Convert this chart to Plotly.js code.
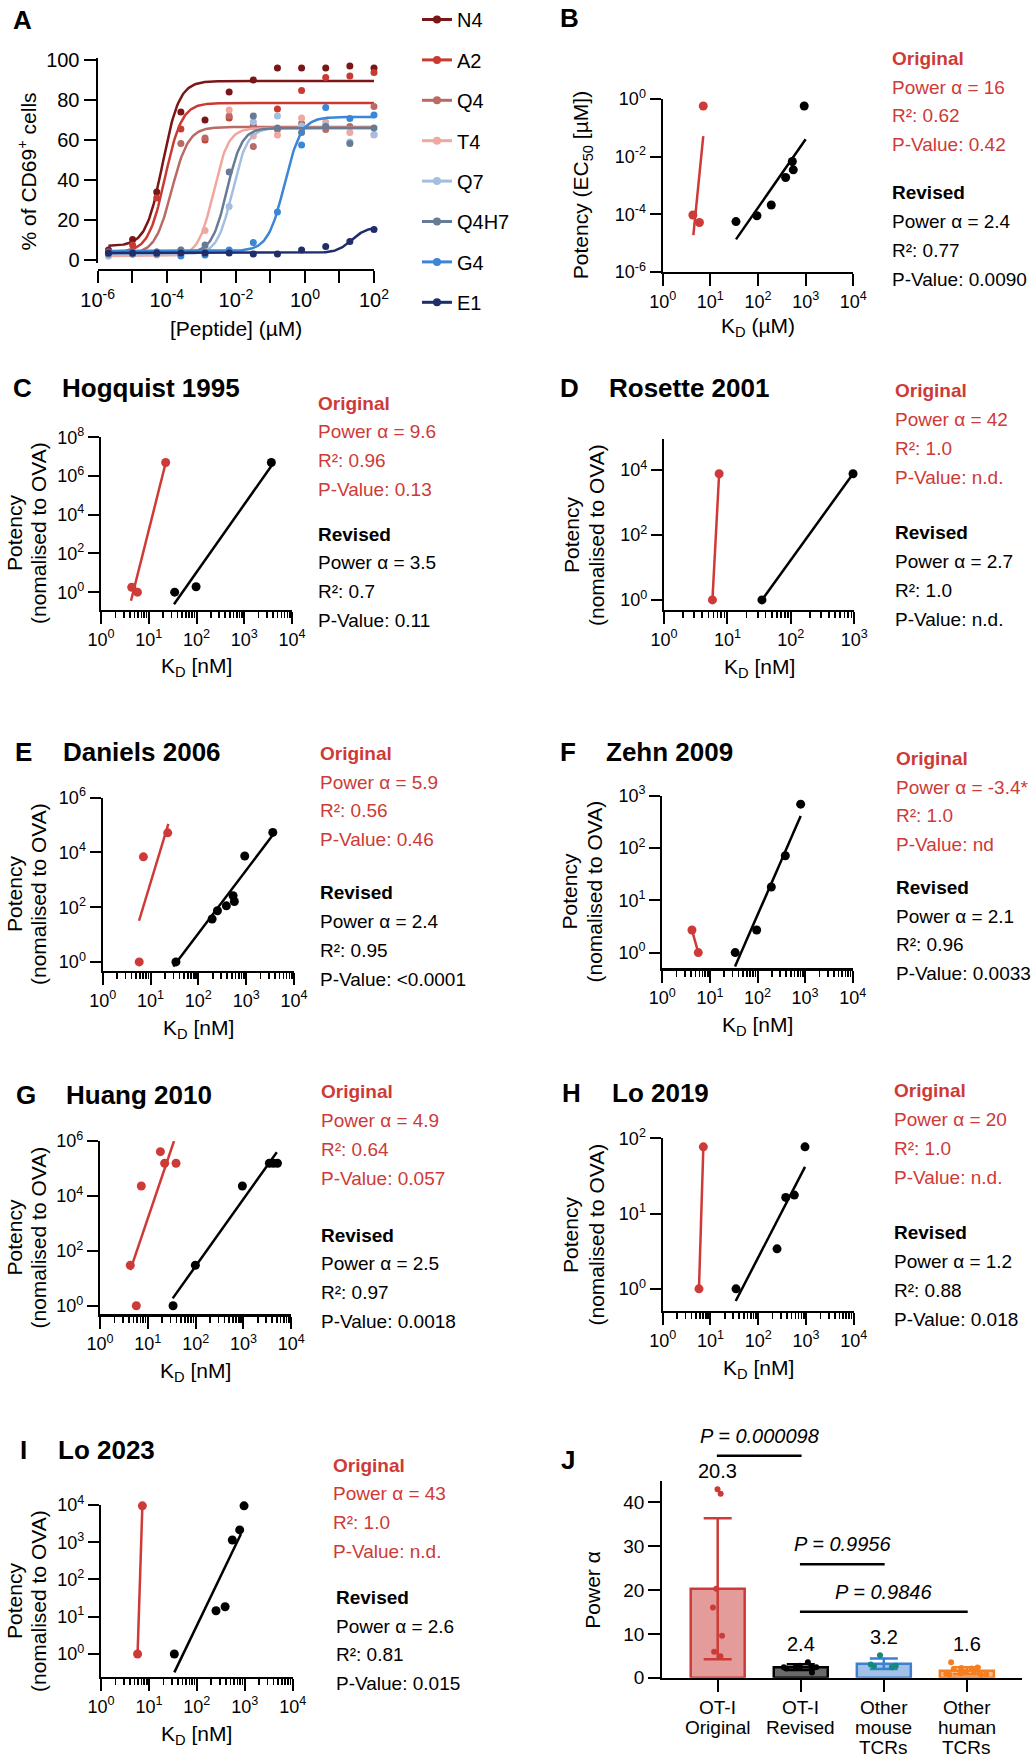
<!DOCTYPE html>
<html><head><meta charset="utf-8">
<script src="https://cdn.plot.ly/plotly-3.0.1.min.js"></script>
<style>html,body{margin:0;padding:0;background:#fff}#chart{width:1031px;height:1760px}</style>
</head><body><div id="chart"></div>
<script>
// ================= DATA =================
// Panel A: dose response
const peptides = ['N4','A2','Q4','T4','Q7','Q4H7','G4','E1'];
const peptideColors = ['#7A1518','#C93A32','#B86A63','#F0A79E','#A3BEDF','#677B95','#3B86D6','#1F2D6B'];
const peptideConc = [2.048e-6, 1.024e-5, 5.12e-5, 2.56e-4, 1.28e-3, 6.4e-3, 0.032, 0.16, 0.8, 4, 20, 100];
const respN4   = [5, 10.3, 34, 74, 70, 84, 90, 96, 96, 96, 97, 96];
const respA2   = [4, 7.5, 31, 65.5, 60, 71, 67, 75.5, 84.7, 91.3, 92, 93.7];
const respQ4   = [3, 3, 4, 58.3, 61, 72, 56.7, 65.3, 68.3, 65.3, 66.7, 76.7];
const respT4   = [2, 3, 2.5, 3, 14.7, 75, 62, 62.5, 71, 69, 63.7, 62.5];
const respQ7   = [2, 3, 3, 5, 5.8, 26.7, 69, 72, 67, 67.5, 59, 62.8];
const respQ4H7 = [3, 3, 3, 5, 7.5, 44, 72, 66, 63.7, 66.7, 58.3, 66];
const respG4   = [4, 4, 4, 2, 2.5, 5, 8.7, 24, 57.5, 76.3, 70.8, 72.5];
const respE1   = [3.5, 3.5, 3.5, 3.5, 3.5, 3.5, 3, 3, 5, 6.7, 9.3, 15.3];
// fitted 4-parameter logistic curves
const fitBottom   = [7, 4, 3, 2, 3, 3.5, 4.5, 3.5];
const fitTop      = [89.5, 78.5, 66.5, 66, 66, 66, 71.5, 16.5];
const fitLogEC50  = [-4.12, -4.05, -3.86, -2.65, -2.10, -2.26, -0.59, 1.35];
const fitHill     = [1.8, 1.8, 1.8, 2.0, 2.0, 2.0, 1.8, 2.0];

// Panel B (µM)
const bOrigKd = [7.1, 4.3, 5.9];
const bOrigEC50 = [0.57, 9.5e-5, 5.2e-5];
const bOrigFitKd = [4.4, 7.1];
const bOrigFitEC50 = [1.9e-5, 0.052];
const bRevKd = [34.5, 95, 190, 380, 525, 550, 933];
const bRevEC50 = [5.6e-5, 8.9e-5, 2.1e-4, 1.9e-3, 6.8e-3, 3.5e-3, 0.57];
const bRevFitKd = [34.5, 1000];
const bRevFitEC50 = [1.35e-5, 0.04];
// Panel C Hogquist 1995
const cOrigKd = [22.6, 4.4, 5.8];
const cOrigPot = [5.0e6, 1.8, 1.0];
const cOrigFitKd = [4.25, 22.6];
const cOrigFitPot = [0.36, 4.7e6];
const cRevKd = [34.9, 98, 3690];
const cRevPot = [1.0, 1.9, 5.0e6];
const cRevFitKd = [33.8, 3690];
const cRevFitPot = [0.24, 3.3e6];
// Panel D Rosette 2001
const dOrigKd = [5.8, 7.4];
const dOrigPot = [1.0, 7600];
const dRevKd = [35, 955];
const dRevPot = [1.0, 7600];
// Panel E Daniels 2006
const eOrigKd = [5.8, 7.1, 22.9];
const eOrigPot = [1.0, 6900, 52000];
const eOrigFitKd = [5.75, 23.6];
const eOrigFitPot = [32, 1.1e5];
const eRevKd = [34, 194, 251, 385, 532, 566, 933, 3600];
const eRevPot = [1.0, 37, 74, 112, 263, 162, 7400, 54000];
const eRevFitKd = [30, 3600];
const eRevFitPot = [0.68, 43000];
// Panel F Zehn 2009
const fOrigKd = [4.2, 5.7];
const fOrigPot = [2.7, 1.0];
const fRevKd = [34, 96, 195, 384, 807];
const fRevPot = [1.0, 2.7, 18, 71, 690];
const fRevFitKd = [33.7, 807];
const fRevFitPot = [0.54, 407];
// Panel G Huang 2010
const gOrigKd = [4.3, 5.75, 7.3, 18.3, 22.5, 38.9];
const gOrigPot = [30, 1.0, 23000, 4.1e5, 1.55e5, 1.55e5];
const gOrigFitKd = [4.3, 35.3];
const gOrigFitPot = [20, 1.0e6];
const gRevKd = [33.7, 98.6, 948, 3480, 4230, 5130];
const gRevPot = [1.0, 30, 23000, 1.55e5, 1.55e5, 1.55e5];
const gRevFitKd = [33.1, 4970];
const gRevFitPot = [1.86, 3.9e5];
// Panel H Lo 2019
const hOrigKd = [5.75, 7.1];
const hOrigPot = [1.0, 77];
const hRevKd = [34.3, 248, 377, 571, 955];
const hRevPot = [1.0, 3.4, 16.4, 17.6, 77];
const hRevFitKd = [33.8, 955];
const hRevFitPot = [0.69, 41.7];
// Panel I Lo 2023
const iOrigKd = [5.8, 7.3];
const iOrigPot = [1.0, 9500];
const iRevKd = [33.9, 251, 389, 550, 783, 966];
const iRevPot = [1.0, 14.5, 18.6, 1150, 2140, 9500];
const iRevFitKd = [33.9, 832];
const iRevFitPot = [0.32, 1660];

// statistics text: [power, R², P]
const statsB = [['16','0.62','0.42'], ['2.4','0.77','0.0090']];
const statsC = [['9.6','0.96','0.13'], ['3.5','0.7','0.11']];
const statsD = [['42','1.0','n.d.'], ['2.7','1.0','n.d.']];
const statsE = [['5.9','0.56','0.46'], ['2.4','0.95','&lt;0.0001']];
const statsF = [['-3.4*','1.0','nd'], ['2.1','0.96','0.0033']];
const statsG = [['4.9','0.64','0.057'], ['2.5','0.97','0.0018']];
const statsH = [['20','1.0','n.d.'], ['1.2','0.88','0.018']];
const statsI = [['43','1.0','n.d.'], ['2.6','0.81','0.015']];

// Panel J
const jCategories = ['OT-I<br>Original','OT-I<br>Revised','Other<br>mouse<br>TCRs','Other<br>human<br>TCRs'];
const jMeans = [20.3, 2.4, 3.2, 1.6];
const jSD = [16.1, 0.65, 1.2, 0.8];
const jOriginal = [43, 42, 20.3, 16, 9.6, 5.9, 4.9];
const jRevised = [2.4, 3.5, 2.7, 2.4, 2.1, 2.5, 1.2, 2.6];
const jMouse = [2.4, 2.6, 5.1, 2.7, 3.0];
const jHuman = [2.2, 1.0, 2.0, 1.3, 0.7, 2.3, 0.9, 3.5, 1.8, 0.8, 1.2, 2.1, 0.6, 1.6];
const jPvals = ['P = 0.000098', 'P = 0.9956', 'P = 0.9846'];

// ================= LAYOUT HELPERS =================
const W = 1031, H = 1760;
const FONT = 'Liberation Sans, Arial, Helvetica, sans-serif';
const RED = '#CE3A37';
const px = v => v / W;
const py = v => 1 - v / H;
const dx = (a, b) => [a / W, b / W];
const dy = (top, bot) => [1 - bot / H, 1 - top / H];
const sfx = k => (k === 1 ? '' : String(k));

const axBase = {
  showgrid: false, zeroline: false, showline: true, linecolor: 'black', linewidth: 2.2,
  ticks: 'outside', ticklen: 11, tickwidth: 2, tickcolor: 'black',
  tickfont: {family: FONT, size: 18, color: 'black'}, automargin: false, fixedrange: true
};
function powText(n) { return '10<sup>' + n + '</sup>'; }
function decadeTicks(lo, hi, step) {
  const v = [], t = [];
  for (let n = lo; n <= hi; n += step) { v.push(Math.pow(10, n)); t.push(powText(n)); }
  return {tickmode: 'array', tickvals: v, ticktext: t};
}
function minorVals(lo, hi) {
  const v = [];
  for (let n = lo; n < hi; n++) for (let m = 2; m <= 9; m++) v.push(m * Math.pow(10, n));
  return v;
}

const traces = [];
const annotations = [];
const shapes = [];
const layout = {
  width: W, height: H, margin: {l: 0, r: 0, t: 0, b: 0},
  paper_bgcolor: 'white', plot_bgcolor: 'rgba(0,0,0,0)',
  font: {family: FONT, color: 'black'}, hovermode: false,
  showlegend: true, barmode: 'overlay', boxmode: 'overlay',
  legend: {x: 417 / W, y: 1, xanchor: 'left', yanchor: 'top', font: {family: FONT, size: 20, color: 'black'},
           tracegroupgap: 11.4, bgcolor: 'rgba(0,0,0,0)', traceorder: 'grouped'},
  annotations: annotations, shapes: shapes
};

function text(x, y, t, opts) {
  annotations.push(Object.assign({xref: 'paper', yref: 'paper', x: px(x), y: py(y), text: t, showarrow: false,
    xanchor: 'left', yanchor: 'middle', font: {family: FONT, size: 19, color: 'black'}}, opts || {}));
}
function panelLabel(x, y, letter) {
  text(x, y, '<b>' + letter + '</b>', {font: {family: FONT, size: 26, color: 'black'}});
}
function studyTitle(x, y, t) {
  text(x, y, '<b>' + t + '</b>', {font: {family: FONT, size: 26, color: 'black'}});
}
function axisTitle(x, y, t, rot, size) {
  text(x, y, t, {xanchor: 'center', textangle: rot ? -90 : 0, font: {family: FONT, size: size || 21, color: 'black'}});
}
// two-line rotated potency title, each line placed separately (tighter line spacing)
const potTitleLines = ['Potency', '(nomalised to OVA)'];
function potencyTitle(x1, x2, y) {
  axisTitle(x1, y, potTitleLines[0], true, 21);
  axisTitle(x2, y, potTitleLines[1], true, 21);
}
function statBlock(x, yOrig, yRev, stats, xRev) {
  const LS = 28.8;
  const o = stats[0], r = stats[1];
  const redFont = {family: FONT, size: 19, color: RED};
  text(x, yOrig, '<b>Original</b>', {font: redFont});
  text(x, yOrig + LS, 'Power α = ' + o[0], {font: redFont});
  text(x, yOrig + 2 * LS, 'R²: ' + o[1], {font: redFont});
  text(x, yOrig + 3 * LS, 'P-Value: ' + o[2], {font: redFont});
  const xr = xRev || x;
  text(xr, yRev, '<b>Revised</b>');
  text(xr, yRev + LS, 'Power α = ' + r[0]);
  text(xr, yRev + 2 * LS, 'R²: ' + r[1]);
  text(xr, yRev + 3 * LS, 'P-Value: ' + r[2]);
}

// ================= PANEL A =================
(function () {
  const resp = [respN4, respA2, respQ4, respT4, respQ7, respQ4H7, respG4, respE1];
  layout.xaxis = Object.assign({}, axBase, {
    type: 'log', domain: dx(97.7, 374), range: [-6, 2], anchor: 'free', position: py(270),
    tickmode: 'array',
    tickvals: [1e-6, 1e-5, 1e-4, 1e-3, 1e-2, 1e-1, 1, 10, 100],
    ticktext: [powText(-6), ' ', powText(-4), ' ', powText(-2), ' ', powText(0), ' ', powText(2)],
    ticklen: 12, tickfont: {family: FONT, size: 20, color: 'black'}
  });
  layout.yaxis = Object.assign({}, axBase, {
    domain: dy(58, 263), range: [-1.5, 101], anchor: 'x',
    tickmode: 'array', tickvals: [0, 20, 40, 60, 80, 100], ticklen: 12,
    tickfont: {family: FONT, size: 20, color: 'black'}
  });
  for (let i = 0; i < peptides.length; i++) {
    const c = peptideColors[i];
    const xs = [], ys = [];
    for (let j = 0; j <= 240; j++) {
      const lx = -5.69 + j * (7.69 / 240);
      xs.push(Math.pow(10, lx));
      ys.push(fitBottom[i] + (fitTop[i] - fitBottom[i]) / (1 + Math.pow(10, fitHill[i] * (fitLogEC50[i] - lx))));
    }
    traces.push({x: xs, y: ys, mode: 'lines', line: {color: c, width: 2.5}, showlegend: false, xaxis: 'x', yaxis: 'y'});
    traces.push({x: peptideConc, y: resp[i], mode: 'markers', marker: {color: c, size: 7}, cliponaxis: false,
      showlegend: false, xaxis: 'x', yaxis: 'y'});
    traces.push({x: [null], y: [null], mode: 'lines+markers', name: peptides[i], legendgroup: peptides[i],
      line: {color: c, width: 3}, marker: {color: c, size: 8}, xaxis: 'x', yaxis: 'y'});
  }
  panelLabel(11, 20, 'A');
  axisTitle(26.7, 171.7, '% of CD69<sup>+</sup> cells', true, 21);
  axisTitle(235.8, 328, '[Peptide] (µM)', false, 21);
})();

// ================= SCATTER PANELS B–I =================
function scatterPanel(k, cfg) {
  const s = sfx(k);
  const xa = 'x' + s, ya = 'y' + s;
  layout['xaxis' + s] = Object.assign({}, axBase, {
    type: 'log', domain: dx(cfg.x0, cfg.x1), range: cfg.xr, anchor: ya, ticklen: 12
  }, decadeTicks(cfg.xr[0], cfg.xr[1], 1), cfg.minor ? {
    minor: {tickmode: 'array', tickvals: minorVals(cfg.xr[0], cfg.xr[1]), ticks: 'outside', ticklen: 6,
            tickwidth: 1.6, tickcolor: 'black', showgrid: false}
  } : {});
  layout['yaxis' + s] = Object.assign({}, axBase, {
    type: 'log', domain: dy(cfg.yTop, cfg.yBot), range: cfg.yr, anchor: xa
  }, decadeTicks(cfg.yt[0], cfg.yt[1], cfg.yt[2]));
  const groups = [
    [cfg.oKd, cfg.oPot, cfg.oFitKd, cfg.oFitPot, RED],
    [cfg.rKd, cfg.rPot, cfg.rFitKd, cfg.rFitPot, 'black']
  ];
  groups.forEach(g => {
    if (g[2]) {
      traces.push({x: g[2], y: g[3], mode: 'lines', line: {color: g[4], width: 2.5}, showlegend: false, xaxis: xa, yaxis: ya});
      traces.push({x: g[0], y: g[1], mode: 'markers', marker: {color: g[4], size: 9}, cliponaxis: false,
        showlegend: false, xaxis: xa, yaxis: ya});
    } else {
      traces.push({x: g[0], y: g[1], mode: 'lines+markers', line: {color: g[4], width: 2.5}, cliponaxis: false,
        marker: {color: g[4], size: 9}, showlegend: false, xaxis: xa, yaxis: ya});
    }
  });
}

// B
scatterPanel(2, {x0: 662.7, x1: 853.3, xr: [0, 4], yTop: 99, yBot: 272, yr: [-6, 0], yt: [-6, 0, 2], minor: false,
  oKd: bOrigKd, oPot: bOrigEC50, oFitKd: bOrigFitKd, oFitPot: bOrigFitEC50,
  rKd: bRevKd, rPot: bRevEC50, rFitKd: bRevFitKd, rFitPot: bRevFitEC50});
panelLabel(558, 18, 'B');
axisTitle(582.7, 185.5, 'Potency (EC<sub>50</sub> [µM])', true, 21);
axisTitle(758, 326.7, 'K<sub>D</sub> (µM)', false, 21);
statBlock(890, 58.3, 192.7, statsB);

const kdTitle = 'K<sub>D</sub> [nM]';
// C
scatterPanel(3, {x0: 101, x1: 292, xr: [0, 4], yTop: 437.3, yBot: 610, yr: [-0.92, 8], yt: [0, 8, 2], minor: true,
  oKd: cOrigKd, oPot: cOrigPot, oFitKd: cOrigFitKd, oFitPot: cOrigFitPot,
  rKd: cRevKd, rPot: cRevPot, rFitKd: cRevFitKd, rFitPot: cRevFitPot});
panelLabel(11, 388, 'C'); studyTitle(60, 388, 'Hogquist 1995');
potencyTitle(14, 38, 533); axisTitle(196.5, 667, kdTitle, false, 21);
statBlock(316, 403, 534, statsC);
// D
scatterPanel(4, {x0: 664, x1: 854.3, xr: [0, 3], yTop: 439, yBot: 610, yr: [-0.31, 4.95], yt: [0, 4, 2], minor: true,
  oKd: dOrigKd, oPot: dOrigPot, rKd: dRevKd, rPot: dRevPot});
panelLabel(558, 388, 'D'); studyTitle(607, 388, 'Rosette 2001');
potencyTitle(571, 596, 535); axisTitle(759, 668, kdTitle, false, 21);
statBlock(892.7, 390.7, 532.7, statsD);
// E
scatterPanel(5, {x0: 102.7, x1: 294, xr: [0, 4], yTop: 797.7, yBot: 970.7, yr: [-0.32, 6], yt: [0, 6, 2], minor: true,
  oKd: eOrigKd, oPot: eOrigPot, oFitKd: eOrigFitKd, oFitPot: eOrigFitPot,
  rKd: eRevKd, rPot: eRevPot, rFitKd: eRevFitKd, rFitPot: eRevFitPot});
panelLabel(13, 752, 'E'); studyTitle(61, 752, 'Daniels 2006');
potencyTitle(14, 38, 894); axisTitle(198.3, 1029, kdTitle, false, 21);
statBlock(318.3, 753.3, 892.7, statsE);
// F
scatterPanel(6, {x0: 662.3, x1: 852.7, xr: [0, 4], yTop: 795.7, yBot: 968.3, yr: [-0.3, 3], yt: [0, 3, 1], minor: true,
  oKd: fOrigKd, oPot: fOrigPot,
  rKd: fRevKd, rPot: fRevPot, rFitKd: fRevFitKd, rFitPot: fRevFitPot});
panelLabel(558, 752, 'F'); studyTitle(604, 752, 'Zehn 2009');
potencyTitle(569, 594, 891.5); axisTitle(757.5, 1026, kdTitle, false, 21);
statBlock(894.3, 758.3, 887.3, statsF);
// G
scatterPanel(7, {x0: 100, x1: 291.3, xr: [0, 4], yTop: 1141, yBot: 1314.3, yr: [-0.31, 6], yt: [0, 6, 2], minor: true,
  oKd: gOrigKd, oPot: gOrigPot, oFitKd: gOrigFitKd, oFitPot: gOrigFitPot,
  rKd: gRevKd, rPot: gRevPot, rFitKd: gRevFitKd, rFitPot: gRevFitPot});
panelLabel(14, 1095, 'G'); studyTitle(64, 1095, 'Huang 2010');
potencyTitle(14, 38, 1237.5); axisTitle(195.7, 1372, kdTitle, false, 21);
statBlock(319, 1091.7, 1235, statsG);
// H
scatterPanel(8, {x0: 662.7, x1: 853.7, xr: [0, 4], yTop: 1138.3, yBot: 1310.7, yr: [-0.29, 2], yt: [0, 2, 1], minor: true,
  oKd: hOrigKd, oPot: hOrigPot,
  rKd: hRevKd, rPot: hRevPot, rFitKd: hRevFitKd, rFitPot: hRevFitPot});
panelLabel(560, 1093, 'H'); studyTitle(610, 1093, 'Lo 2019');
potencyTitle(570, 595.5, 1235); axisTitle(758.2, 1369, kdTitle, false, 21);
statBlock(892.3, 1090.7, 1232.7, statsH);
// I
scatterPanel(9, {x0: 101, x1: 292.7, xr: [0, 4], yTop: 1505, yBot: 1676.7, yr: [-0.61, 4], yt: [0, 4, 1], minor: true,
  oKd: iOrigKd, oPot: iOrigPot,
  rKd: iRevKd, rPot: iRevPot, rFitKd: iRevFitKd, rFitPot: iRevFitPot});
panelLabel(18, 1450, 'I'); studyTitle(56, 1450, 'Lo 2023');
potencyTitle(14, 38, 1601); axisTitle(196.7, 1735, kdTitle, false, 21);
statBlock(331, 1465, 1597.3, statsI, 334.3);

// ================= PANEL J =================
(function () {
  layout.xaxis10 = Object.assign({}, axBase, {
    domain: dx(662.3, 1021.7), range: [-0.667, 3.66], anchor: 'y10',
    tickmode: 'array', tickvals: [0, 1, 2, 3], showticklabels: false, ticklen: 12
  });
  layout.yaxis10 = Object.assign({}, axBase, {
    domain: dy(1481, 1677.7), range: [0, 44.9], anchor: 'x10',
    tickmode: 'array', tickvals: [0, 10, 20, 30, 40], ticklen: 12,
    tickfont: {family: FONT, size: 19, color: 'black'}
  });
  const fills = ['#E39C9A', '#6A6A6A', '#A2C1E6', '#F8BA8C'];
  const edges = ['#CE3A37', '#000000', '#3D7FD4', '#F57F20'];
  const dots = ['#CE3A37', '#000000', '#138A7C', '#F57F20'];
  const pts = [jOriginal, jRevised, jMouse, jHuman];
  const bw = [0.3, 0.62, 0.62, 0.7];
  const jit = [0.45, 0.95, 0.6, 0.95];
  for (let i = 0; i < 4; i++) {
    traces.push({type: 'bar', x: [i], y: [jMeans[i]], width: 0.65, showlegend: false,
      marker: {color: fills[i], line: {color: edges[i], width: 2.5}},
      error_y: {type: 'data', array: [jSD[i]], visible: true, color: edges[i], thickness: 2.5, width: 14},
      xaxis: 'x10', yaxis: 'y10'});
  }
  for (let i = 0; i < 4; i++) {
    traces.push({type: 'box', x0: i, y: pts[i], boxpoints: 'all', jitter: jit[i], pointpos: 0, width: bw[i],
      fillcolor: 'rgba(0,0,0,0)', line: {color: 'rgba(0,0,0,0)', width: 0},
      marker: {color: dots[i], size: 6}, showlegend: false, xaxis: 'x10', yaxis: 'y10'});
    annotations.push({xref: 'x10', yref: 'y10', x: i, y: Math.max.apply(null, pts[i]), yshift: 5,
      text: jMeans[i].toFixed(1), showarrow: false, xanchor: 'center', yanchor: 'bottom',
      font: {family: FONT, size: 20, color: 'black'}});
    // category label, one annotation per line for tight line spacing
    jCategories[i].split('<br>').forEach((ln, li) => {
      annotations.push({xref: 'x10', yref: 'paper', x: i, y: py(1707 + li * 20.3), text: ln, showarrow: false,
        xanchor: 'center', yanchor: 'middle', font: {family: FONT, size: 19, color: 'black'}});
    });
  }
  const comps = [[0, 1, 1455.7], [1, 2, 1564.3], [1, 3, 1611.7]];
  comps.forEach((c, k) => {
    shapes.push({type: 'line', xref: 'x10', yref: 'paper', x0: c[0] - 0.01, x1: c[1] + 0.01, y0: py(c[2]), y1: py(c[2]),
      line: {color: 'black', width: 2.5}});
    annotations.push({xref: 'x10', yref: 'paper', x: (c[0] + c[1]) / 2, y: py(c[2] - 20), text: '<i>' + jPvals[k] + '</i>',
      showarrow: false, xanchor: 'center', yanchor: 'middle', font: {family: FONT, size: 20, color: 'black'}});
  });
  panelLabel(559, 1460, 'J');
  axisTitle(591.7, 1590, 'Power α', true, 21);
})();

Plotly.newPlot('chart', traces, layout, {staticPlot: true, displayModeBar: false});
</script>
</body></html>
